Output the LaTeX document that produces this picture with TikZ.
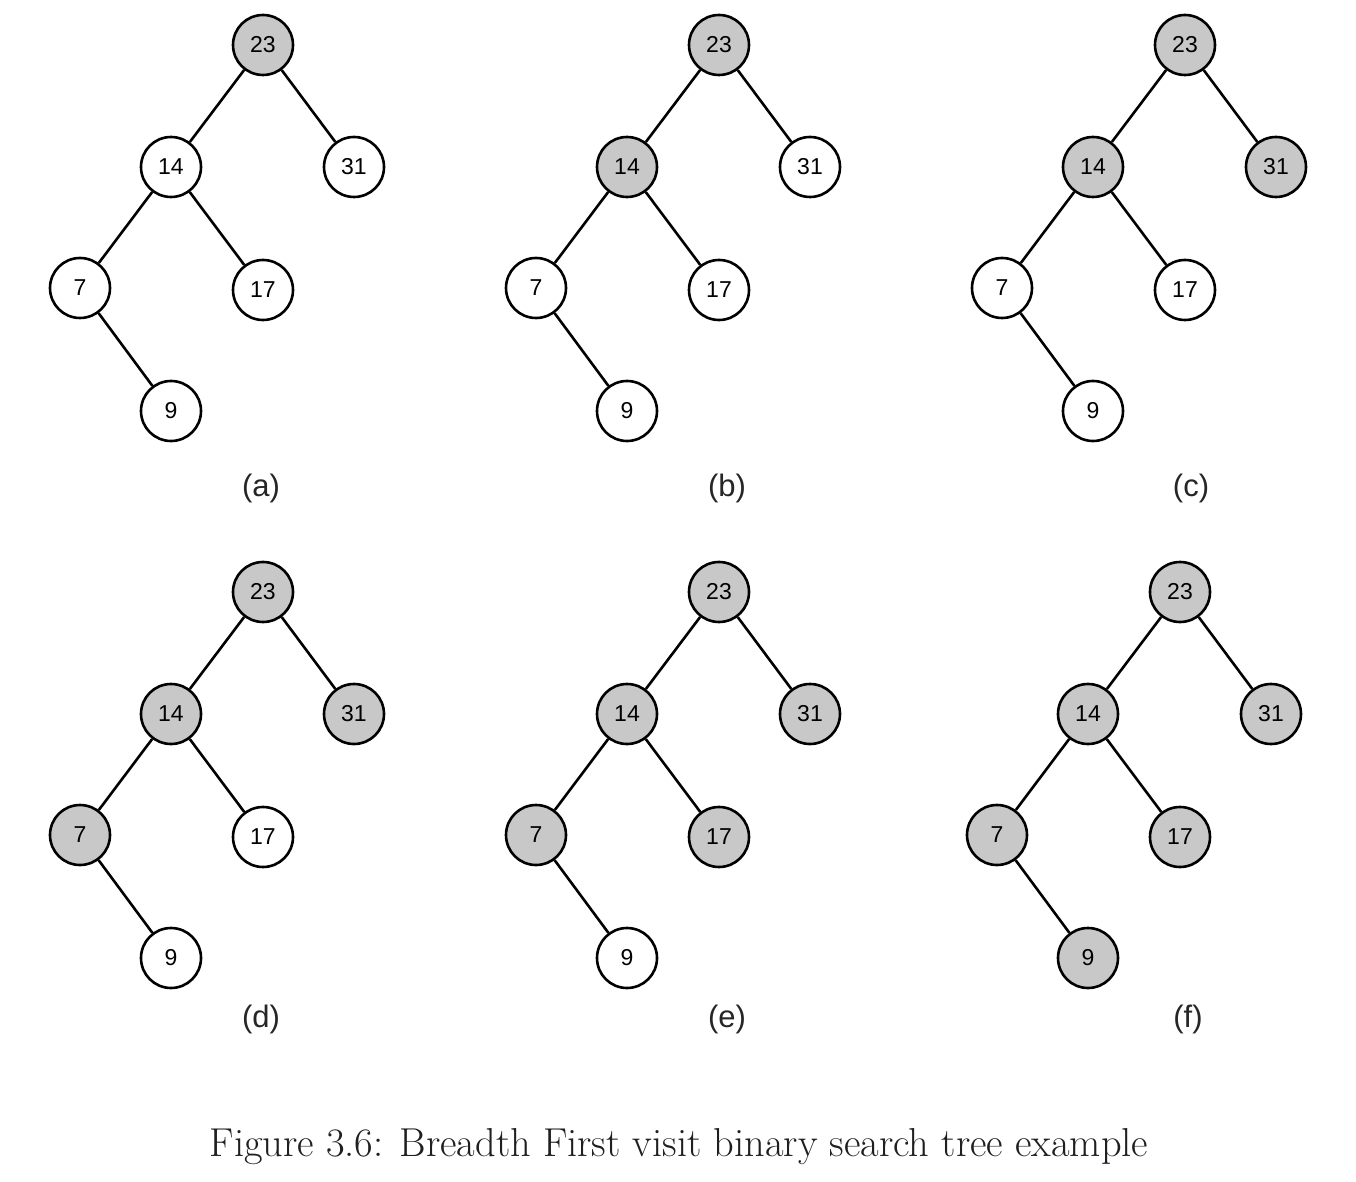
\documentclass[tikz,border=0pt]{standalone}
\usepackage{fontspec}
\newfontfamily\arialf{Liberation Sans}
\definecolor{visited}{HTML}{C8C8C8}
\begin{document}
\begin{tikzpicture}[x=0.5pt,y=-0.5pt,
  tnode/.style={circle,draw=black,line width=1.3pt,minimum size=30pt,inner sep=0pt,fill=white,
    font=\arialf\fontsize{11.5}{13}\selectfont},
  vis/.style={tnode,fill=visited},
  edge/.style={line width=1.3pt,draw=black},
  sublabel/.style={inner sep=0pt,font=\arialf\fontsize{15.5}{18}\selectfont,text=black!85}]
\useasboundingbox[fill=white] (0,0) rectangle (1356,1182);
\newcommand\bstree[9]{%
  \begin{scope}[shift={(#2,#3)}]
    \node[#4] (#1r) at (263,45) {23};
    \node[#5] (#1a) at (171,167) {14};
    \node[#6] (#1b) at (354,167) {31};
    \node[#7] (#1c) at (80,288) {7};
    \node[#8] (#1d) at (263,290) {17};
    \node[#9] (#1e) at (171,411) {9};
    \draw[edge] (#1r) -- (#1a);
    \draw[edge] (#1r) -- (#1b);
    \draw[edge] (#1a) -- (#1c);
    \draw[edge] (#1a) -- (#1d);
    \draw[edge] (#1c) -- (#1e);
  \end{scope}}
\bstree{A}{0}{0}{vis}{tnode}{tnode}{tnode}{tnode}{tnode}
\bstree{B}{456}{0}{vis}{vis}{tnode}{tnode}{tnode}{tnode}
\bstree{C}{922}{0}{vis}{vis}{vis}{tnode}{tnode}{tnode}
\bstree{D}{0}{547}{vis}{vis}{vis}{vis}{tnode}{tnode}
\bstree{E}{456}{547}{vis}{vis}{vis}{vis}{vis}{tnode}
\bstree{F}{917}{547}{vis}{vis}{vis}{vis}{vis}{vis}
\node[sublabel] (la) at (261,488) {(a)};
\node[sublabel] (lb) at (727,488) {(b)};
\node[sublabel] (lc) at (1191,488) {(c)};
\node[sublabel] (ld) at (261,1019) {(d)};
\node[sublabel] (le) at (727,1019) {(e)};
\node[sublabel] (lf) at (1188,1019) {(f)};
\node[inner sep=0pt,anchor=base,font=\fontsize{20.2}{24}\selectfont,text=black!88] (cap) at (679,1156)
  {Figure 3.6: Breadth First visit binary search tree example};
\end{tikzpicture}
\end{document}
